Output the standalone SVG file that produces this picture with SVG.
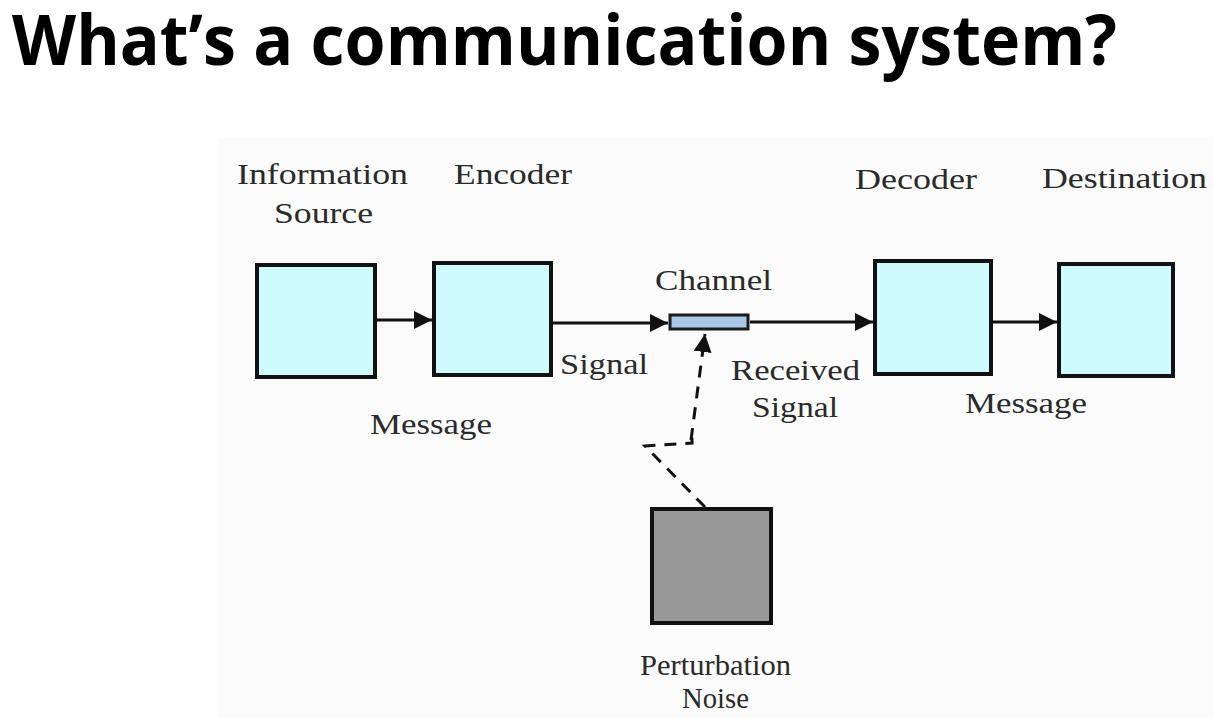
<svg xmlns="http://www.w3.org/2000/svg" width="1213" height="718" viewBox="0 0 1213 718">
<defs>
<style>
.t{font-family:"Liberation Serif","Times New Roman",serif;font-size:29px;fill:#2a2a2a}
.box{fill:#cdfbfd;stroke:#111;stroke-width:4}
.ln{stroke:#111;stroke-width:3;fill:none}
.dash{stroke:#111;stroke-width:3;fill:none;stroke-dasharray:12 9}
</style>
<marker id="ah" viewBox="0 0 10 10" refX="10" refY="5" markerWidth="18" markerHeight="18" markerUnits="userSpaceOnUse" orient="auto">
<path d="M0,0 L10,5 L0,10 z" fill="#111"/>
</marker>
</defs>
<rect width="1213" height="718" fill="#fff"/>
<rect x="218" y="138" width="995" height="580" fill="#fbfbfb"/>
<text x="12" y="65" font-family="'Open Sans','Noto Sans',sans-serif" font-weight="bold" font-size="70" textLength="1105" lengthAdjust="spacingAndGlyphs" fill="#000">What’s a communication system?</text>

<g id="connectors">
<line class="ln" x1="377" y1="320" x2="432" y2="320" marker-end="url(#ah)"/>
<line class="ln" x1="553" y1="323" x2="668" y2="323" marker-end="url(#ah)"/>
<line class="ln" x1="750" y1="322" x2="873" y2="322" marker-end="url(#ah)"/>
<line class="ln" x1="993" y1="322" x2="1057" y2="322" marker-end="url(#ah)"/>
<polyline class="dash" points="705,507 645,446 692,443 692,430"/>
<line class="dash" x1="691" y1="440" x2="705" y2="334" marker-end="url(#ah)"/>
</g>

<g id="source">
<rect class="box" x="257" y="265" width="118" height="112"/>
<text class="t" x="237" y="184" textLength="171" lengthAdjust="spacingAndGlyphs">Information</text>
<text class="t" x="274" y="223" textLength="99" lengthAdjust="spacingAndGlyphs">Source</text>
</g>
<g id="encoder">
<rect class="box" x="434" y="263" width="117" height="112"/>
<text class="t" x="454" y="184" textLength="118" lengthAdjust="spacingAndGlyphs">Encoder</text>
</g>
<g id="channel">
<rect x="670" y="315" width="78" height="14" fill="#a9c6e6" stroke="#1a1a1a" stroke-width="3"/>
<text class="t" x="655" y="290" textLength="117" lengthAdjust="spacingAndGlyphs">Channel</text>
</g>
<g id="decoder">
<rect class="box" x="875" y="261" width="116" height="113"/>
<text class="t" x="855" y="189" textLength="122" lengthAdjust="spacingAndGlyphs">Decoder</text>
</g>
<g id="destination">
<rect class="box" x="1059" y="264" width="114" height="112"/>
<text class="t" x="1042" y="188" textLength="165" lengthAdjust="spacingAndGlyphs">Destination</text>
</g>
<g id="noise">
<rect x="652" y="509" width="119" height="114" fill="#999" stroke="#111" stroke-width="4"/>
<text class="t" x="640" y="675" font-size="26" textLength="151" lengthAdjust="spacingAndGlyphs">Perturbation</text>
<text class="t" x="682" y="708" font-size="26" textLength="67" lengthAdjust="spacingAndGlyphs">Noise</text>
</g>
<g id="labels">
<text class="t" x="370" y="434" textLength="122" lengthAdjust="spacingAndGlyphs">Message</text>
<text class="t" x="560" y="374" textLength="88" lengthAdjust="spacingAndGlyphs">Signal</text>
<text class="t" x="731" y="380" textLength="129" lengthAdjust="spacingAndGlyphs">Received</text>
<text class="t" x="752" y="417" textLength="86" lengthAdjust="spacingAndGlyphs">Signal</text>
<text class="t" x="965" y="413" textLength="122" lengthAdjust="spacingAndGlyphs">Message</text>
</g>
</svg>
